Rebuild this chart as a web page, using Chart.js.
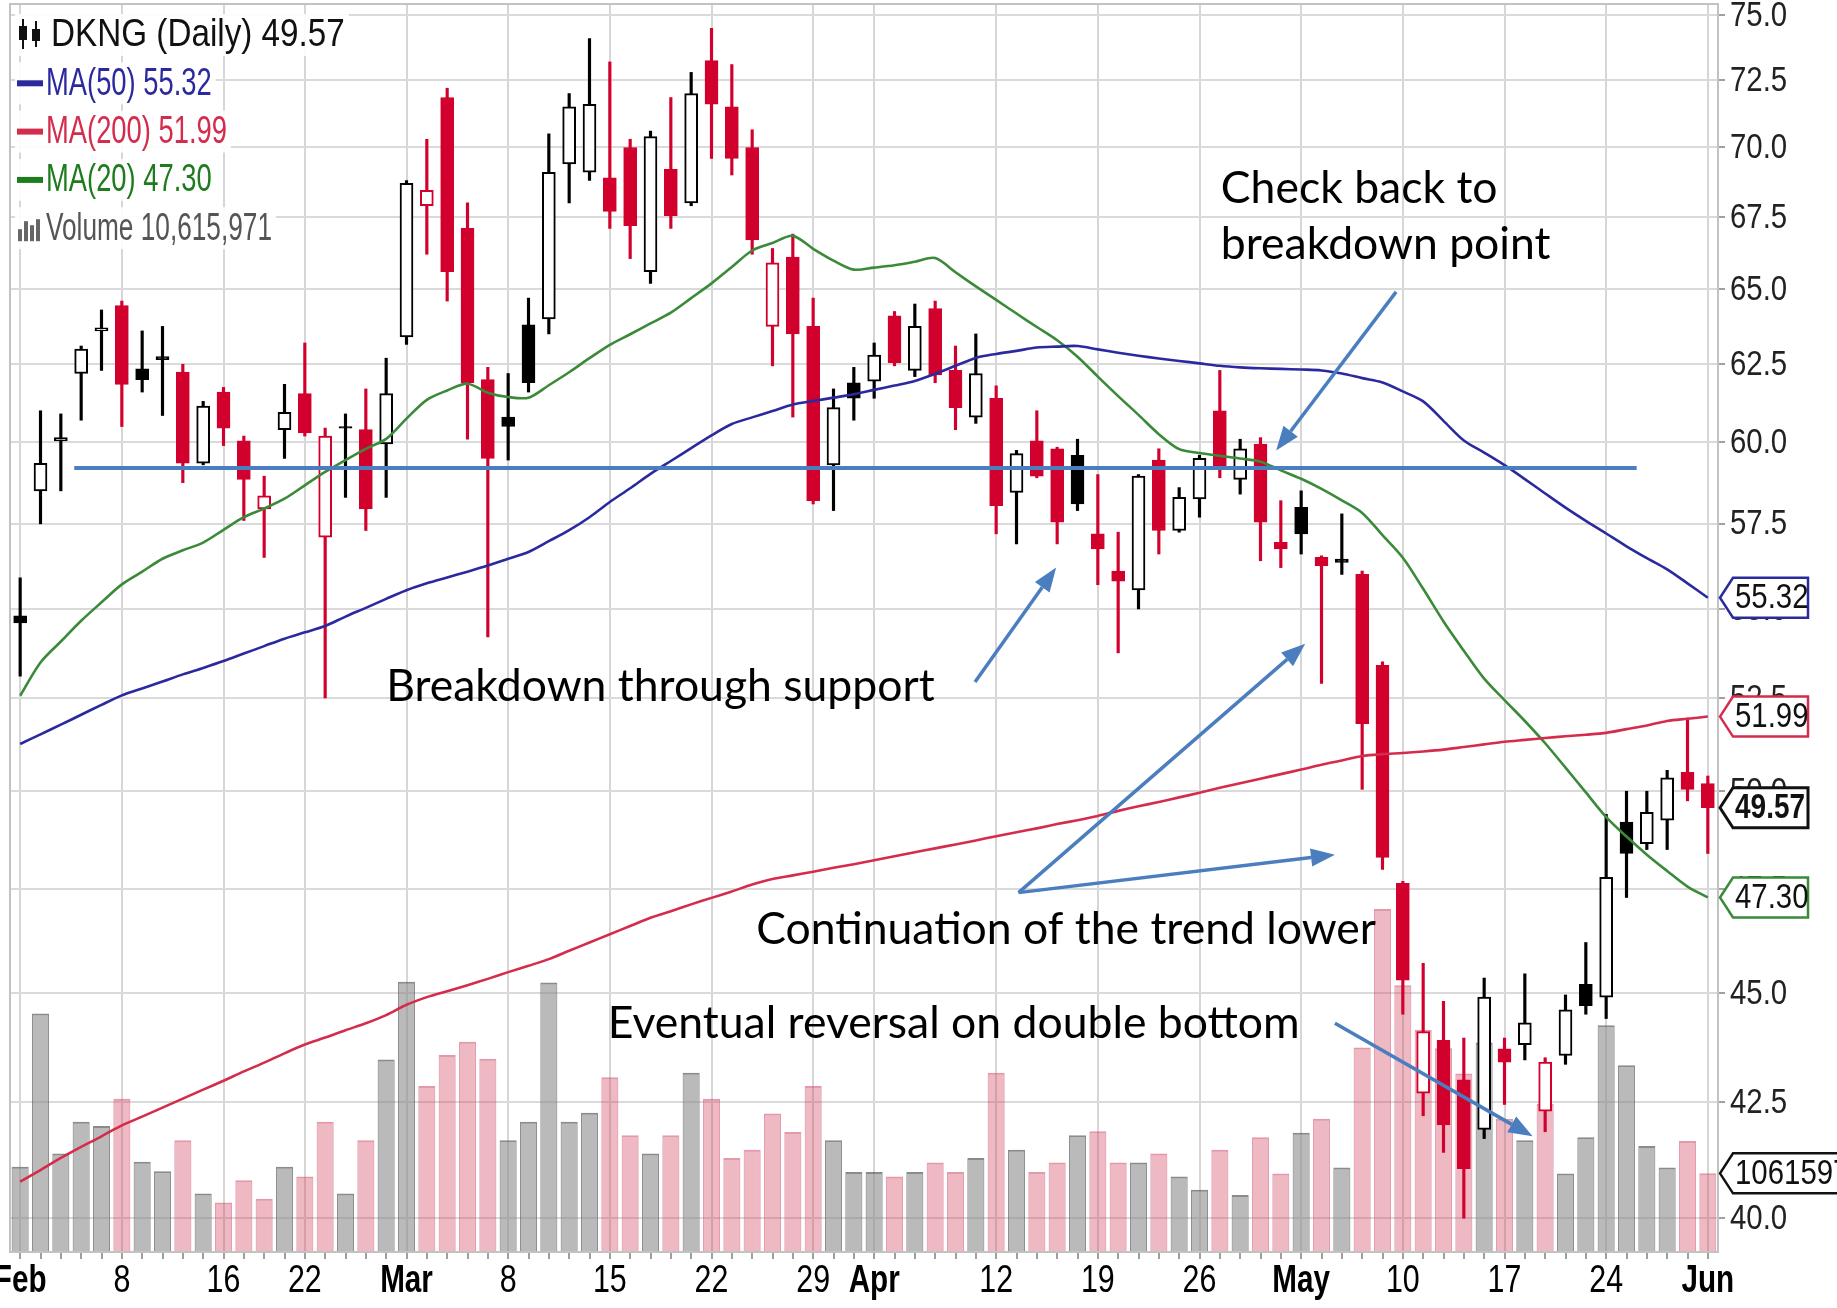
<!DOCTYPE html>
<html>
<head>
<meta charset="utf-8">
<title>DKNG Daily</title>
<script src="https://cdn.jsdelivr.net/npm/chart.js@4.4.0/dist/chart.umd.min.js"></script>
<style>
    html, body { margin: 0; padding: 0; background: #fff; }
    #wrap { width: 1837px; height: 1308px; }
</style>
</head>
<body>
<div id="wrap"><canvas id="priceChart" width="1837" height="1308"></canvas></div>
<script>
// trading days Feb 1 - Jun 1 2021
var dates = ["Feb 1","Feb 2","Feb 3","Feb 4","Feb 5","Feb 8","Feb 9","Feb 10","Feb 11","Feb 12",
    "Feb 16","Feb 17","Feb 18","Feb 19","Feb 22","Feb 23","Feb 24","Feb 25","Feb 26",
    "Mar 1","Mar 2","Mar 3","Mar 4","Mar 5","Mar 8","Mar 9","Mar 10","Mar 11","Mar 12",
    "Mar 15","Mar 16","Mar 17","Mar 18","Mar 19","Mar 22","Mar 23","Mar 24","Mar 25","Mar 26",
    "Mar 29","Mar 30","Mar 31","Apr 1","Apr 5","Apr 6","Apr 7","Apr 8","Apr 9",
    "Apr 12","Apr 13","Apr 14","Apr 15","Apr 16","Apr 19","Apr 20","Apr 21","Apr 22","Apr 23",
    "Apr 26","Apr 27","Apr 28","Apr 29","Apr 30","May 3","May 4","May 5","May 6","May 7",
    "May 10","May 11","May 12","May 13","May 14","May 17","May 18","May 19","May 20","May 21",
    "May 24","May 25","May 26","May 27","May 28","Jun 1"];

var opens = [54.8,58.5,60.05,62.2,63.6,64.45,62.35,62.75,62.25,59.35,
    61.6,60.05,57.95,60.4,61.55,57.1,60.5,60.4,59.95,63.4,
    67.9,71.85,67.1,62.0,60.8,63.8,64.0,69.4,69.1,68.9,
    70.0,65.6,69.2,68.0,73.25,71.5,70.0,63.75,66.1,63.75,
    59.3,61.9,61.95,64.1,62.3,64.35,62.3,60.8,61.4,58.45,
    60.05,59.8,59.6,57.2,56.1,55.55,59.45,57.3,58.25,61.0,
    58.85,59.95,56.95,58.0,56.5,56.45,56.0,53.4,47.65,42.7,
    43.9,43.0,41.9,43.7,43.8,42.3,43.55,45.2,44.9,49.2,
    48.65,49.25,50.5,50.2];
var highs = [55.9,61.0,60.9,63.1,64.3,64.6,63.6,63.75,62.5,61.3,
    61.75,60.2,58.95,61.85,63.2,60.45,60.9,61.7,62.7,68.8,
    70.3,72.2,68.0,62.4,62.2,64.7,70.5,72.0,74.1,73.2,
    70.3,70.6,71.85,72.8,74.5,73.1,70.65,66.4,66.9,64.7,
    61.7,62.4,63.2,64.25,64.5,64.6,63.1,63.5,61.8,59.75,
    61.0,59.85,60.1,59.0,57.25,59.0,59.8,58.6,59.6,62.3,
    60.1,60.15,58.2,58.5,56.55,57.8,56.1,53.5,47.7,45.7,
    44.8,43.95,45.35,43.95,45.45,43.5,44.95,46.2,49.4,50.0,
    50.0,50.55,51.95,50.4];
var lows = [53.1,57.5,58.5,60.7,62.3,60.5,61.6,60.85,58.75,59.3,
    59.9,57.6,56.5,59.5,60.2,52.5,58.3,57.3,58.3,63.15,
    66.2,64.6,60.1,54.2,59.45,61.6,63.5,68.0,68.8,67.1,
    66.05,65.2,67.1,67.9,69.6,69.0,66.2,62.45,60.8,58.1,
    57.9,60.7,61.4,62.45,62.1,61.9,60.4,60.6,57.2,56.9,
    58.9,56.9,57.9,55.7,53.75,55.0,56.6,57.25,57.7,58.9,
    58.4,56.4,56.2,56.6,52.9,56.0,50.05,48.0,44.5,42.2,
    41.4,40.0,41.7,42.45,43.45,41.85,43.35,44.5,44.4,47.3,
    48.5,48.5,49.75,48.4];
var closes = [54.6,59.35,60.15,63.0,63.7,61.85,62.0,62.65,59.35,61.15,
    60.45,58.85,58.35,60.95,60.3,60.2,60.45,57.95,61.55,68.7,
    68.45,65.6,61.9,59.5,60.5,61.9,69.1,71.5,71.6,67.7,
    67.2,70.4,67.55,72.0,71.6,69.6,66.7,65.9,63.5,58.2,
    61.1,61.4,62.8,62.55,63.75,62.15,61.1,62.2,58.05,59.65,
    58.95,57.55,58.1,56.75,55.8,58.95,57.3,58.3,59.5,59.2,
    59.8,57.55,56.75,57.2,56.25,56.35,51.8,48.3,45.3,44.1,
    42.0,41.05,44.9,43.4,44.3,43.4,44.6,44.7,47.8,48.4,
    49.45,50.35,50.05,49.57];
var prevClose = 54.0; // close before Feb 1

var volumes = [11500000,32200000,13300000,17600000,17000000,20700000,12200000,10900000,15100000,7900000,
    6700000,9700000,7200000,11500000,10200000,17600000,7900000,15100000,26000000,36500000,
    22400000,26600000,28400000,26100000,15100000,17600000,36400000,17600000,18800000,23600000,
    15750000,13300000,15750000,24200000,20700000,12700000,13800000,18700000,16200000,22400000,
    15100000,10800000,10800000,10200000,10800000,12100000,10800000,12700000,24200000,13800000,
    10800000,12100000,15750000,16300000,12100000,12100000,13300000,10200000,8400000,13800000,
    7700000,15500000,10600000,16100000,18000000,11400000,27600000,46300000,36000000,30000000,
    27500000,24100000,28300000,18000000,15100000,20000000,10600000,15500000,30600000,25200000,
    14300000,11400000,15000000,10615971];

var ma20 = [52.56,53.48,54.07,54.66,55.19,55.71,56.08,56.46,56.71,56.94,
    57.32,57.70,57.96,58.26,58.67,59.08,59.45,59.80,60.11,60.75,
    61.35,61.65,61.87,61.58,61.44,61.42,61.82,62.24,62.70,63.14,
    63.49,63.85,64.21,64.70,65.20,65.76,66.33,66.59,66.84,66.39,
    65.98,65.67,65.74,65.82,65.94,66.07,65.58,65.10,64.64,64.18,
    63.73,63.29,62.75,62.10,61.47,60.87,60.26,59.79,59.67,59.58,
    59.50,59.40,59.13,58.87,58.56,58.21,57.83,57.16,56.49,55.58,
    54.64,53.81,53.03,52.44,51.87,51.27,50.62,49.97,49.33,48.83,
    48.37,47.96,47.57,47.30];
var ma50 = [51.25,51.51,51.77,52.04,52.31,52.57,52.76,52.95,53.15,53.33,
    53.52,53.73,53.94,54.15,54.33,54.51,54.78,55.03,55.29,55.54,
    55.74,55.91,56.08,56.26,56.46,56.66,56.98,57.31,57.70,58.16,
    58.58,59.02,59.42,59.82,60.22,60.58,60.79,60.99,61.20,61.31,
    61.42,61.53,61.67,61.81,61.96,62.19,62.45,62.71,62.84,62.94,
    63.05,63.08,63.10,62.99,62.88,62.78,62.69,62.61,62.53,62.45,
    62.40,62.37,62.35,62.33,62.30,62.20,62.05,61.91,61.62,61.30,
    60.68,60.06,59.68,59.29,58.86,58.42,57.99,57.59,57.21,56.83,
    56.48,56.15,55.74,55.32];
var ma200 = [40.77,41.02,41.28,41.52,41.75,41.99,42.18,42.38,42.58,42.78,
    42.98,43.19,43.39,43.60,43.80,43.96,44.13,44.29,44.48,44.72,
    44.90,45.04,45.18,45.33,45.49,45.64,45.80,46.00,46.20,46.40,
    46.60,46.80,46.96,47.13,47.29,47.45,47.62,47.76,47.85,47.94,
    48.04,48.13,48.23,48.33,48.43,48.53,48.63,48.73,48.84,48.94,
    49.04,49.15,49.25,49.36,49.49,49.61,49.72,49.84,49.96,50.09,
    50.21,50.33,50.45,50.57,50.70,50.81,50.93,50.98,51.01,51.05,
    51.10,51.17,51.24,51.31,51.36,51.41,51.46,51.50,51.55,51.65,
    51.75,51.87,51.93,51.99];

var tickAt = [0,5,10,14,19,24,29,34,39,42,48,53,58,63,68,73,78,83];
var tickText = ["Feb","8","16","22","Mar","8","15","22","29","Apr","12","19","26","May","10","17","24","Jun"];
var priceTicks = [40,42.5,45,47.5,50,52.5,55,57.5,60,62.5,65,67.5,70,72.5,75];

// annotations, in data units (day index, price)
var supportLevel = 59.2;
var supportSpan = [2.66, 79.5];
var noteText = ["Check back to", "breakdown point", "Breakdown through support",
    "Continuation of the trend lower", "Eventual reversal on double bottom"];
var noteIdx = [59.05, 59.05, 18.0, 36.2, 28.9];
var notePrice = [68.5, 66.55, 52.8, 46.5, 44.29];
var arrowFrom = [[67.67, 64.91], [46.96, 52.94], [49.1, 47.42], [49.1, 47.42], [64.66, 44.29]];
var arrowTo = [[61.77, 59.75], [50.95, 56.2], [63.2, 54.01], [64.66, 48.37], [74.38, 41.75]];

var SANS = "'Liberation Sans', Arial, sans-serif";
var RED = "#d1002c";
var BLUE50 = "#2a2a9e";
var RED200 = "#d42c4c";
var GREEN20 = "#3a8a3a";
var NOTE_BLUE = "#4a7ebf";

function isUp(i) {
    var prev = i === 0 ? prevClose : closes[i - 1];
    return closes[i] >= prev;
}
function candleColor(i) {
    return isUp(i) ? "#000" : RED;
}

var wickData = lows.map((l, i) => [l, highs[i]]);
var bodyData = opens.map((o, i) => [Math.min(o, closes[i]), Math.max(o, closes[i])]);

function fmt(n) {
    return n.toFixed(2);
}

// narrow text: regular face squeezed horizontally
function narrowText(ctx, text, x, y, squeeze, align) {
    ctx.save();
    ctx.translate(x, y);
    ctx.scale(squeeze, 1);
    ctx.textAlign = align || "left";
    ctx.fillText(text, 0, 0);
    ctx.restore();
}

function tagBox(ctx, x0, yc, x1, color, text, bold) {
    var h = 20;
    ctx.beginPath();
    ctx.moveTo(x0, yc);
    ctx.lineTo(x0 + 13, yc - h);
    ctx.lineTo(x1, yc - h);
    ctx.lineTo(x1, yc + h);
    ctx.lineTo(x0 + 13, yc + h);
    ctx.closePath();
    ctx.fillStyle = "#fff";
    ctx.fill();
    ctx.lineWidth = bold ? 3 : 2.5;
    ctx.strokeStyle = color;
    ctx.stroke();
    ctx.fillStyle = "#111";
    ctx.font = (bold ? "bold " : "") + "35px " + SANS;
    ctx.textBaseline = "middle";
    narrowText(ctx, text, x0 + 15, yc + 1, bold ? 0.8 : 0.84);
}

function arrow(ctx, x1, y1, x2, y2) {
    var ang = Math.atan2(y2 - y1, x2 - x1);
    var len = 24, half = 9;
    var bx = x2 - len * Math.cos(ang), by = y2 - len * Math.sin(ang);
    ctx.beginPath();
    ctx.moveTo(x1, y1);
    ctx.lineTo(bx, by);
    ctx.stroke();
    ctx.beginPath();
    ctx.moveTo(x2, y2);
    ctx.lineTo(bx + half * Math.sin(ang), by - half * Math.cos(ang));
    ctx.lineTo(bx - half * Math.sin(ang), by + half * Math.cos(ang));
    ctx.closePath();
    ctx.fill();
}

var overlay = {
    id: "overlay",
    afterDatasetsDraw: function (chart) {
        var ctx = chart.ctx, xs = chart.scales.x, ys = chart.scales.y;
        ctx.save();
        // support line
        ctx.strokeStyle = NOTE_BLUE;
        ctx.fillStyle = NOTE_BLUE;
        ctx.lineWidth = 4;
        var sy = ys.getPixelForValue(supportLevel);
        ctx.beginPath();
        ctx.moveTo(xs.getPixelForValue(supportSpan[0]), sy);
        ctx.lineTo(xs.getPixelForValue(supportSpan[1]), sy);
        ctx.stroke();

        ctx.lineWidth = 3.5;
        arrowFrom.forEach(function (f, k) {
            var t = arrowTo[k];
            arrow(ctx, xs.getPixelForValue(f[0]), ys.getPixelForValue(f[1]),
                xs.getPixelForValue(t[0]), ys.getPixelForValue(t[1]));
        });

        ctx.fillStyle = "#000";
        ctx.font = "44.5px Lato, 'Open Sans', sans-serif";
        ctx.textAlign = "left";
        ctx.textBaseline = "middle";
        noteText.forEach(function (t, k) {
            ctx.fillText(t, xs.getPixelForValue(noteIdx[k]), ys.getPixelForValue(notePrice[k]));
        });
        ctx.restore();
    },
    afterDraw: function (chart) {
        var ctx = chart.ctx, area = chart.chartArea;
        var xs = chart.scales.x, ys = chart.scales.y, vs = chart.scales.vol;
        var n = closes.length - 1;
        ctx.save();
        // plot frame
        ctx.strokeStyle = "#c2c2c2";
        ctx.lineWidth = 2;
        ctx.strokeRect(area.left, area.top, area.right - area.left, area.bottom - area.top);

        // price tick labels
        ctx.fillStyle = "#222";
        ctx.font = "35px " + SANS;
        ctx.textBaseline = "middle";
        priceTicks.forEach(function (v) {
            narrowText(ctx, v.toFixed(1), area.right + 12, ys.getPixelForValue(v) + 1, 0.84);
        });

        // date tick labels
        ctx.fillStyle = "#000";
        tickAt.forEach(function (idx, k) {
            var bold = isNaN(parseInt(tickText[k]));
            ctx.font = (bold ? "bold " : "") + "38px " + SANS;
            narrowText(ctx, tickText[k], xs.getPixelForValue(idx), area.bottom + 30, bold ? 0.78 : 0.8, "center");
        });

        // value tags on the right
        var x0 = area.right + 2, x1 = area.right + 90;
        tagBox(ctx, x0, ys.getPixelForValue(ma50[n]), x1, BLUE50, fmt(ma50[n]), false);
        tagBox(ctx, x0, ys.getPixelForValue(ma200[n]), x1, RED200, fmt(ma200[n]), false);
        tagBox(ctx, x0, ys.getPixelForValue(closes[n]), x1, "#111", fmt(closes[n]), true);
        tagBox(ctx, x0, ys.getPixelForValue(ma20[n]), x1, GREEN20, fmt(ma20[n]), false);
        tagBox(ctx, x0, vs.getPixelForValue(volumes[n]), x1 + 60, "#111", String(volumes[n]), false);

        // legend
        var rows = [
            {t: "DKNG (Daily) " + fmt(closes[n]), c: "#111", icon: "candle", sq: 0.875},
            {t: "MA(50) " + fmt(ma50[n]), c: BLUE50, icon: "dash", sq: 0.72},
            {t: "MA(200) " + fmt(ma200[n]), c: RED200, icon: "dash", sq: 0.72},
            {t: "MA(20) " + fmt(ma20[n]), c: "#1e7b1e", icon: "dash", sq: 0.72},
            {t: "Volume " + volumes[n].toLocaleString("en-US"), c: "#555", icon: "vol", sq: 0.69}
        ];
        ctx.font = "38px " + SANS;
        ctx.textBaseline = "middle";
        rows.forEach(function (r, k) {
            var yc = 35 + k * 48.3;
            var w = ctx.measureText(r.t).width * r.sq;
            var tx = r.icon === "candle" ? 51 : 46;
            ctx.fillStyle = "rgba(255,255,255,0.9)";
            ctx.fillRect(15, yc - 21, tx - 15 + w + 4, 42);
            ctx.fillStyle = r.c;
            if (r.icon === "dash") {
                ctx.fillRect(17, yc - 3, 26, 6);
            } else if (r.icon === "vol") {
                ctx.fillStyle = "#666";
                [[18, 12], [24, 20], [30, 16], [36, 22]].forEach(function (b) {
                    ctx.fillRect(b[0], yc + 13 - b[1], 4, b[1]);
                });
            } else {
                ctx.fillStyle = "#111";
                ctx.fillRect(22, yc - 16, 2, 30);
                ctx.fillRect(19, yc - 9, 8, 14);
                ctx.fillRect(35, yc - 14, 2, 26);
                ctx.fillRect(32, yc - 6, 8, 12);
            }
            ctx.fillStyle = r.c;
            narrowText(ctx, r.t, tx, yc + 1, r.sq);
        });
        ctx.restore();
    }
};

var ctx = document.getElementById("priceChart").getContext("2d");
new Chart(ctx, {
    type: "bar",
    data: {
        labels: dates,
        datasets: [
            {
                type: "line", label: "MA(50)", data: ma50, yAxisID: "y",
                borderColor: BLUE50, borderWidth: 2.6, pointRadius: 0, tension: 0.3, order: 1
            },
            {
                type: "line", label: "MA(200)", data: ma200, yAxisID: "y",
                borderColor: RED200, borderWidth: 2.6, pointRadius: 0, tension: 0.3, order: 2
            },
            {
                type: "line", label: "MA(20)", data: ma20, yAxisID: "y",
                borderColor: GREEN20, borderWidth: 2.6, pointRadius: 0, tension: 0.3, order: 3
            },
            {
                label: "Body", data: bodyData, yAxisID: "y", grouped: false,
                barThickness: 13, borderWidth: 2, borderSkipped: false,
                backgroundColor: c => closes[c.dataIndex] > opens[c.dataIndex] ? "#fff" : candleColor(c.dataIndex),
                borderColor: c => candleColor(c.dataIndex),
                order: 5
            },
            {
                label: "Wick", data: wickData, yAxisID: "y", grouped: false,
                barThickness: 2.5, borderWidth: 0,
                backgroundColor: c => candleColor(c.dataIndex),
                order: 6
            },
            {
                label: "Volume", data: volumes, yAxisID: "vol", grouped: false,
                barPercentage: 0.84, categoryPercentage: 1, borderWidth: {top: 2, left: 1, right: 1},
                backgroundColor: c => isUp(c.dataIndex) ? "rgba(140,140,140,0.6)" : "rgba(214,70,100,0.38)",
                borderColor: c => isUp(c.dataIndex) ? "rgba(100,100,100,0.75)" : "rgba(205,70,100,0.55)",
                order: 10
            }
        ]
    },
    options: {
        responsive: false,
        animation: false,
        devicePixelRatio: 1,
        layout: { padding: { left: 10, top: 4, right: 0, bottom: 0 } },
        plugins: { legend: { display: false }, tooltip: { enabled: false } },
        scales: {
            x: {
                type: "category",
                offset: true,
                grid: {
                    offset: false,
                    lineWidth: 2,
                    color: c => tickAt.indexOf(c.index) >= 0 ? "#d6d6d6" : "rgba(0,0,0,0)",
                    tickColor: "#a0a0a0",
                    tickLength: 7
                },
                border: { color: "#c2c2c2", width: 2 },
                ticks: { display: false, autoSkip: false, maxRotation: 0 },
                afterFit: function (s) {
                    s.height = 56;
                    s.paddingLeft = 0;
                    s.paddingRight = 0;
                }
            },
            y: {
                type: "logarithmic",
                position: "right",
                min: 39.3,
                max: 75.45,
                afterBuildTicks: function (s) {
                    s.ticks = priceTicks.map(v => ({ value: v }));
                },
                grid: { color: "#dadada", lineWidth: 2, tickColor: "#a0a0a0", tickLength: 7 },
                border: { color: "#c2c2c2", width: 2 },
                ticks: { display: false },
                afterFit: function (s) {
                    s.width = 119;
                    s.paddingTop = 0;
                    s.paddingBottom = 0;
                }
            },
            vol: {
                type: "linear",
                display: false,
                min: 0,
                max: 168500000
            }
        }
    },
    plugins: [overlay]
});
</script>
</body>
</html>
